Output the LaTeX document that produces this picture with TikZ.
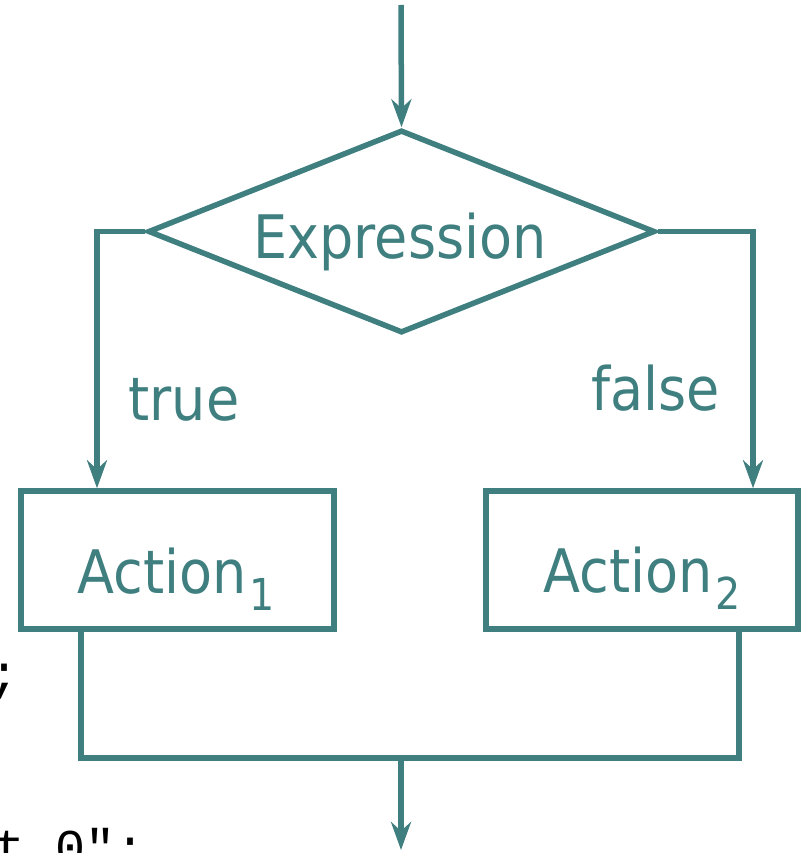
\documentclass[tikz,border=0pt]{standalone}
\usepackage{fontspec}
\setmainfont{DejaVu Sans Condensed}
\setmonofont{Liberation Mono}
\usetikzlibrary{arrows.meta,shapes.geometric}
\definecolor{flowc}{RGB}{64,127,128}
\tikzset{
  flow/.style={draw=flowc, line width=5.5pt},
  arr/.style={flow, -{Stealth[length=28pt,width=20pt,inset=9pt]}},
  lbl/.style={text=flowc, inner sep=0pt, anchor=base, font=\fontsize{60}{72}\selectfont},
  box/.style={flow, rectangle, inner sep=0pt},
  mono/.style={inner sep=0pt, text=black, font=\ttfamily\fontsize{50}{60}\selectfont}
}
\newcommand{\subsc}[1]{\hspace{3pt}\raisebox{-17pt}{\fontsize{44}{50}\selectfont #1}}
\begin{document}
\begin{tikzpicture}[x=1pt,y=-1pt]
\useasboundingbox (0,0) rectangle (805,853);
\clip (0,0) rectangle (805,853);
% shapes
\node[flow, diamond, minimum width=507pt, minimum height=203pt, inner sep=0pt] (expr) at (401.5,231.5) {};
\node[box, minimum width=313pt, minimum height=138pt] (a1) at (177.5,560) {};
\node[box, minimum width=312pt, minimum height=138pt] (a2) at (642,560) {};
% labels
\node[lbl] (exprtext) at (400,258) {Expression};
\node[lbl] (truetext) at (184,420) {true};
\node[lbl] (falsetext) at (656,410) {false};
\node[lbl] (a1text) at (176,593) {Action\subsc{1}};
\node[lbl] (a2text) at (642,592) {Action\subsc{2}};
% helper coordinates
\coordinate (start) at (401,5);
\coordinate (lx) at (97,0);
\coordinate (rx) at (753,0);
\coordinate (bl) at (81,758);
\coordinate (br) at (739,758);
\coordinate (out) at (401,850);
% connectors
\draw[arr] (start) -- (expr.north);
\draw[arr] (expr.west) -| (lx |- a1.north);
\draw[arr] (expr.east) -| (rx |- a2.north);
\draw[flow] (bl |- a1.south) -- (bl) -- (br) -- (br |- a2.south);
\draw[arr] (bl -| out) -- (out);
% clipped code fragments
\node[mono, anchor=base] (semi) at (5,690) {;};
\node[mono, anchor=base west] (codeline) at (-5,864) {t 0";};
\end{tikzpicture}
\end{document}
